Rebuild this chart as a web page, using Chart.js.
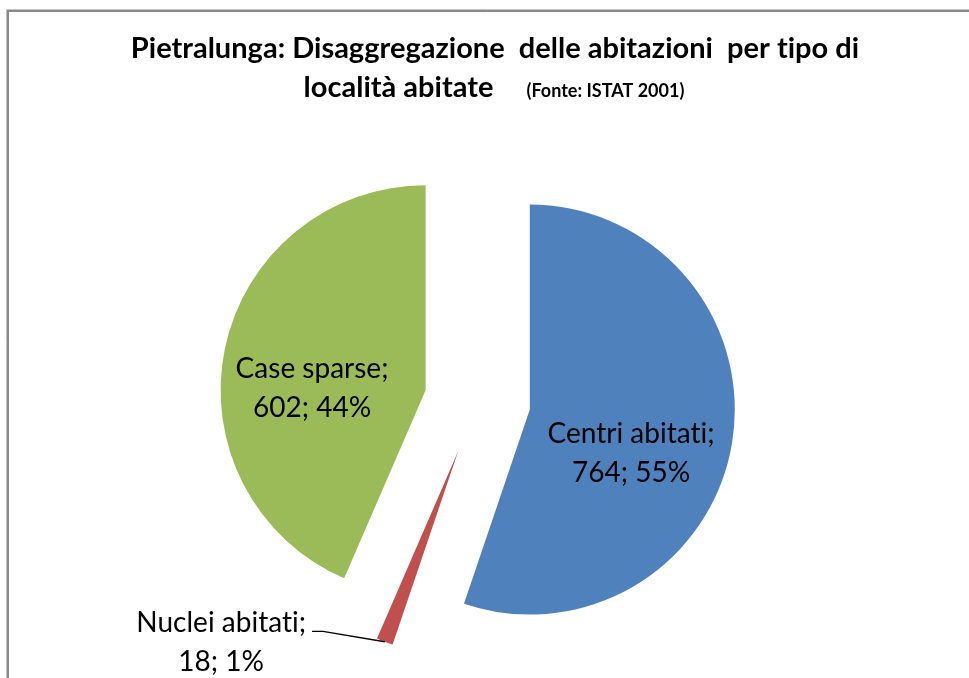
<!DOCTYPE html>
<html>
<head>
<meta charset="utf-8">
<script src="https://cdn.jsdelivr.net/npm/chart.js@4/dist/chart.umd.min.js"></script>
<style>
  html, body { margin: 0; background: #fff; }
  canvas { display: block; }
</style>
</head>
<body>
<canvas id="pie" width="969" height="678"></canvas>
<script>
const categories = ["Centri abitati", "Nuclei abitati", "Case sparse"];
const abitazioni = [764, 18, 602];
const percentuali = [55, 1, 44];
const colors = ["#4F81BD", "#C0504D", "#9BBB59"];

const TITLE_1 = "Pietralunga: Disaggregazione  delle abitazioni  per tipo di";
const TITLE_2 = "località abitate";
const SOURCE = "(Fonte: ISTAT 2001)";

const FONT = "Lato, 'Open Sans', sans-serif";
const PULL = 53;     // how far each slice is pulled out from the centre
const RADIUS = 205;

// label anchor per slice: clock angle (deg, from 12 o'clock) and distance in radii
const labelSpots = [
  { angle: 113.4, dist: 0.538 },
  { angle: 231.1, dist: 1.487, leader: true },
  { angle: 271, dist: 0.554 },
];

const midAngle = (arc) => (arc.startAngle + arc.endAngle) / 2;

// no "ti"/"fi" ligatures
function plainText(ctx) {
  ctx.textRendering = "optimizeSpeed";
  ctx.letterSpacing = "0.01px";
}

// move every slice out along its bisector (exploded pie)
const explode = {
  id: "explode",
  beforeDatasetDraw(chart, { meta }) {
    const a = chart.chartArea;
    const cx = (a.left + a.right) / 2, cy = (a.top + a.bottom) / 2;
    for (const arc of meta.data) {
      const m = midAngle(arc);
      arc.x = cx + Math.cos(m) * PULL;
      arc.y = cy + Math.sin(m) * PULL;
    }
  },
};

const frameAndTitle = {
  id: "frameAndTitle",
  beforeDraw(chart) {
    const ctx = chart.ctx;
    ctx.save();
    ctx.fillStyle = "#fff";
    ctx.fillRect(0, 0, chart.width, chart.height);
    ctx.lineWidth = 1;
    ctx.strokeStyle = "#c4c4c4";
    ctx.beginPath();
    ctx.moveTo(6.5, chart.height); ctx.lineTo(6.5, 9.5); ctx.lineTo(chart.width, 9.5);
    ctx.stroke();
    ctx.lineWidth = 2;
    ctx.strokeStyle = "#8a8a8a";
    ctx.beginPath();
    ctx.moveTo(8, chart.height); ctx.lineTo(8, 11); ctx.lineTo(chart.width, 11);
    ctx.stroke();

    plainText(ctx);
    ctx.fillStyle = "#000";
    ctx.textBaseline = "alphabetic";
    ctx.textAlign = "center";
    ctx.font = `bold 29px ${FONT}`;
    ctx.fillText(TITLE_1, 495, 58);

    ctx.textAlign = "left";
    const w1 = ctx.measureText(TITLE_2).width;
    ctx.font = `bold 18px ${FONT}`;
    const w2 = ctx.measureText(SOURCE).width;
    const gap = 33;
    const x0 = 494 - (w1 + gap + w2) / 2;
    ctx.font = `bold 29px ${FONT}`;
    ctx.fillText(TITLE_2, x0, 97);
    ctx.font = `bold 18px ${FONT}`;
    ctx.fillText(SOURCE, x0 + w1 + gap, 97);
    ctx.restore();
  },
};

const sliceLabels = {
  id: "sliceLabels",
  afterDatasetsDraw(chart) {
    const ctx = chart.ctx;
    const arcs = chart.getDatasetMeta(0).data;
    ctx.save();
    plainText(ctx);
    ctx.font = `28px ${FONT}`;
    ctx.fillStyle = "#000";
    ctx.textBaseline = "alphabetic";
    arcs.forEach((arc, i) => {
      const spot = labelSpots[i];
      const t = (spot.angle - 90) * Math.PI / 180;
      const ax = arc.x + Math.cos(t) * spot.dist * arc.outerRadius;
      const ay = arc.y + Math.sin(t) * spot.dist * arc.outerRadius;
      const line1 = categories[i] + ";";
      const line2 = `${abitazioni[i]}; ${percentuali[i]}%`;
      ctx.textAlign = "center";
      ctx.fillText(line1, ax, ay - 10);
      ctx.fillText(line2, ax, ay + 29);
      if (spot.leader) {
        const w = ctx.measureText(line1).width;
        const sx = ax + w / 2 + 6, sy = ay - 10.5;
        const m = midAngle(arc);
        ctx.strokeStyle = "#000";
        ctx.lineWidth = 1.3;
        ctx.beginPath();
        ctx.moveTo(sx, sy);
        ctx.lineTo(sx + 11, sy);
        ctx.lineTo(arc.x + Math.cos(m) * arc.outerRadius, arc.y + Math.sin(m) * arc.outerRadius);
        ctx.stroke();
      }
    });
    ctx.restore();
  },
};

new Chart(document.getElementById("pie"), {
  type: "pie",
  data: {
    labels: categories,
    datasets: [{
      data: abitazioni,
      backgroundColor: colors,
      borderWidth: 0,
      radius: RADIUS,
      clip: false,
    }],
  },
  options: {
    responsive: false,
    animation: false,
    devicePixelRatio: 1,
    layout: { padding: { top: 124, bottom: 0, left: 0, right: 14 } },
    plugins: {
      legend: { display: false },
      title: { display: false },
      tooltip: { enabled: false },
    },
  },
  plugins: [frameAndTitle, explode, sliceLabels],
});
</script>
</body>
</html>
